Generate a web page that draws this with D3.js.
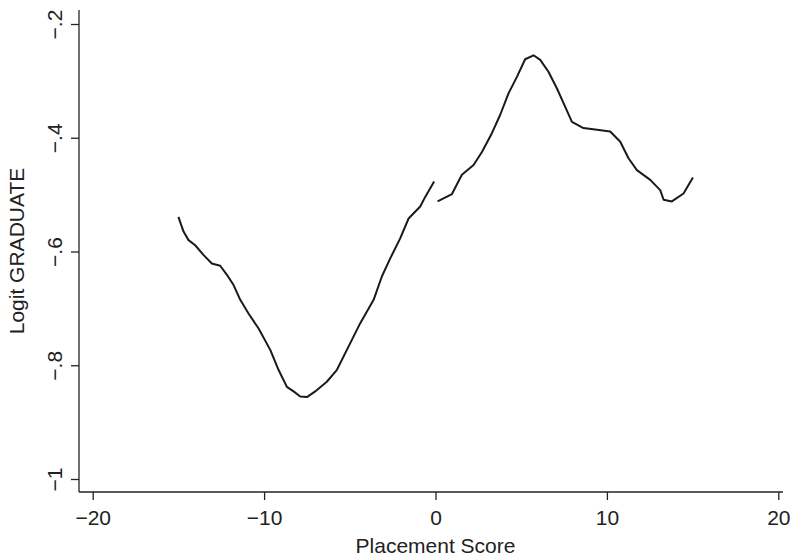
<!DOCTYPE html>
<html>
<head>
<meta charset="utf-8">
<style>
    body { margin: 0; background: #fff; }
    svg { display: block; font-family: 'Liberation Sans', Arial, sans-serif; }
    .axis .domain { display: none; }
    .axis .tick line { stroke: #222; stroke-width: 1.3; }
    .axis .tick text { font-size: 21px; fill: #222; }
    .axis-title { font-size: 21px; fill: #222; }
</style>
</head>
<body>
<svg width="794" height="559"></svg>
<script src="https://d3js.org/d3.v7.min.js"></script>
<script>
    // placement score (x) and logit of graduation (y)
    let leftScore = [-15.0, -14.7, -14.41, -14.02, -13.54, -13.05, -12.56, -12.17, -11.78, -11.39,
        -10.91, -10.33, -9.64, -9.16, -8.67, -8.28, -7.89, -7.5, -7.02, -6.34, -5.75, -5.17,
        -4.39, -3.61, -3.13, -2.64, -2.06, -1.57, -0.89, -0.6, -0.08]
    let leftLogit = [-0.539, -0.565, -0.580, -0.589, -0.606, -0.621, -0.625, -0.641, -0.659, -0.685,
        -0.709, -0.735, -0.773, -0.808, -0.838, -0.846, -0.855, -0.856, -0.846, -0.829, -0.808, -0.773,
        -0.726, -0.685, -0.644, -0.612, -0.577, -0.542, -0.521, -0.504, -0.477]

    let rightScore = [0.12, 0.96, 1.54, 2.22, 2.71, 3.29, 3.77, 4.26, 4.75, 5.23, 5.72, 6.11, 6.59,
        7.08, 7.47, 7.96, 8.63, 9.42, 10.19, 10.78, 11.26, 11.75, 12.53, 13.11, 13.31, 13.79, 14.47, 15.02]
    let rightLogit = [-0.512, -0.499, -0.465, -0.448, -0.425, -0.392, -0.360, -0.322, -0.293, -0.262,
        -0.255, -0.263, -0.284, -0.313, -0.339, -0.372, -0.383, -0.386, -0.389, -0.407, -0.436, -0.457,
        -0.474, -0.492, -0.509, -0.512, -0.498, -0.470]

    let xTicks = [-20, -10, 0, 10, 20]
    let xTickLabels = ["\u221220", "\u221210", "0", "10", "20"]
    let yTicks = [-1, -0.8, -0.6, -0.4, -0.2]
    let yTickLabels = ["\u22121", "\u2212.8", "\u2212.6", "\u2212.4", "\u2212.2"]

    let svg = d3.select("svg")

    // plot region edges (axis lines)
    let plot = { left: 79, right: 783, top: 10, bottom: 492 }

    let x = d3.scaleLinear()
        .domain([-20, 20])
        .range([92.7, 778.3])

    let y = d3.scaleLinear()
        .domain([-1, -0.2])
        .range([479, 24])

    // axis lines
    svg.append("line")
        .attr("x1", plot.left).attr("x2", plot.left)
        .attr("y1", plot.top).attr("y2", plot.bottom)
        .attr("stroke", "#222").attr("stroke-width", 1.3)
    svg.append("line")
        .attr("x1", plot.left).attr("x2", plot.right)
        .attr("y1", plot.bottom).attr("y2", plot.bottom)
        .attr("stroke", "#222").attr("stroke-width", 1.3)

    svg.append("g")
        .attr("class", "x axis")
        .attr("transform", `translate(0,${plot.bottom})`)
        .call(d3.axisBottom(x)
            .tickValues(xTicks)
            .tickSizeInner(8)
            .tickSizeOuter(0)
            .tickPadding(10)
            .tickFormat((d, i) => xTickLabels[i]))

    svg.append("g")
        .attr("class", "y axis")
        .attr("transform", `translate(${plot.left},0)`)
        .call(d3.axisLeft(y)
            .tickValues(yTicks)
            .tickSizeInner(8)
            .tickSizeOuter(0)
            .tickFormat((d, i) => yTickLabels[i]))
        .call(g => g.selectAll(".tick text")
            .attr("transform", "rotate(-90)")
            .attr("x", 0)
            .attr("y", -17)
            .attr("dy", 0)
            .attr("text-anchor", "middle"))

    let line = d3.line()
        .x(d => x(d[0]))
        .y(d => y(d[1]))

    let segments = [
        d3.zip(leftScore, leftLogit),
        d3.zip(rightScore, rightLogit)
    ]

    svg.append("g")
        .selectAll("path")
        .data(segments)
        .join("path")
        .attr("d", line)
        .attr("fill", "none")
        .attr("stroke", "#1a1a1a")
        .attr("stroke-width", 2)
        .attr("stroke-linejoin", "round")

    svg.append("text")
        .attr("class", "axis-title")
        .attr("x", x(0))
        .attr("y", 553)
        .attr("text-anchor", "middle")
        .text("Placement Score")

    svg.append("text")
        .attr("class", "axis-title")
        .attr("transform", `translate(24,${(plot.top + plot.bottom) / 2}) rotate(-90)`)
        .attr("text-anchor", "middle")
        .text("Logit GRADUATE")
</script>
</body>
</html>
